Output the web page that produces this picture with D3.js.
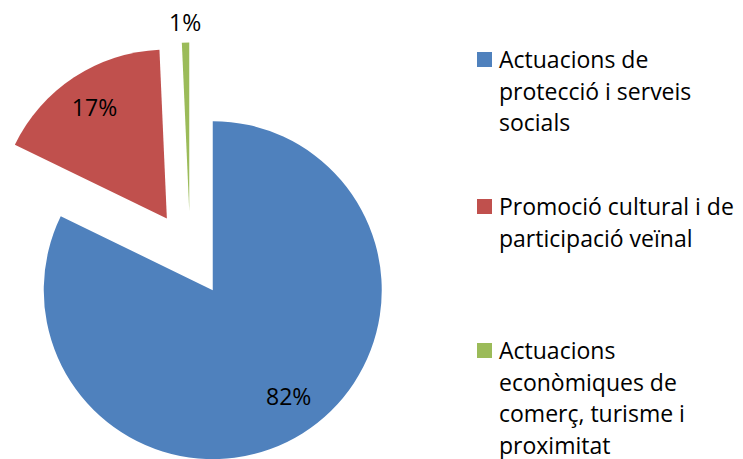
<!DOCTYPE html>
<html>
<head>
<meta charset="utf-8">
<script src="https://cdn.jsdelivr.net/npm/d3@7"></script>
<style>
  html, body { margin: 0; padding: 0; background: #fff; }
  svg { display: block; font-family: "Open Sans", Lato, sans-serif; }
</style>
</head>
<body>
<svg id="chart" width="743" height="459"></svg>
<script>
// Despesa per àmbit (percentatge)

const categories = [
    'Actuacions de protecció i serveis socials',
    'Promoció cultural i de participació veïnal',
    'Actuacions econòmiques de comerç, turisme i proximitat'
];
const values = [82.2, 17.1, 0.7];
const colors = ['#4F81BD', '#C0504D', '#9BBB59'];

// legend text as wrapped in the original
const legendLines = [
    ['Actuacions de', 'protecció i serveis', 'socials'],
    ['Promoció cultural i de', 'participació veïnal'],
    ['Actuacions', 'econòmiques de', 'comerç, turisme i', 'proximitat']
];

const svg = d3.select('#chart');

/* Pie layout */

const cx = 190.2, cy = 254.1;
const radius = 169;
const explode = 42.5;

const data = categories.map((c, i) => ({ name: c, value: values[i], color: colors[i] }));
const total = d3.sum(values);

const pie = d3.pie()
    .value(d => d.value)
    .sort(null)
    .startAngle(0)
    .endAngle(2 * Math.PI);

const arc = d3.arc()
    .innerRadius(0)
    .outerRadius(radius);

const arcs = pie(data);

// shift each slice out along its middle angle
function offset(d, dist) {
    let mid = (d.startAngle + d.endAngle) / 2;
    return [dist * Math.sin(mid), -dist * Math.cos(mid)];
}

const g = svg.append('g')
    .attr('transform', `translate(${cx}, ${cy})`);

g.selectAll('path.slice')
    .data(arcs)
    .join('path')
    .attr('class', 'slice')
    .attr('fill', d => d.data.color)
    .attr('transform', d => {
        let [dx, dy] = offset(d, explode);
        return `translate(${dx}, ${dy})`;
    })
    .attr('d', arc);

/* Percent labels */

const fmt = d3.format('.0%');

g.selectAll('text.pct')
    .data(arcs)
    .join('text')
    .attr('class', 'pct')
    .attr('text-anchor', 'middle')
    .attr('dy', '0.35em')
    .attr('font-size', 23)
    .attr('fill', '#000')
    .attr('transform', d => {
        let small = (d.endAngle - d.startAngle) < 0.2;
        let dist = explode + (small ? radius + 20 : radius * 0.78);
        let [x, y] = offset(d, dist);
        // Excel nudges the big slice label a little to the right
        if (!small && d.index === 0) { x += 6; y -= 5; }
        return `translate(${x}, ${y})`;
    })
    .text(d => fmt(d.value / total));

/* Legend */

const legendX = 477;
const legendTops = [52, 199, 343];
const lineHeight = 31.5;

const legend = svg.append('g').attr('class', 'legend');

const items = legend.selectAll('g.item')
    .data(data)
    .join('g')
    .attr('class', 'item')
    .attr('transform', (d, i) => `translate(${legendX}, ${legendTops[i]})`);

items.append('rect')
    .attr('width', 15)
    .attr('height', 15)
    .attr('fill', d => d.color);

items.each(function (d, i) {
    let t = d3.select(this).append('text')
        .attr('font-size', 23)
        .attr('fill', '#000');
    legendLines[i].forEach((line, k) => {
        t.append('tspan')
            .attr('x', 22)
            .attr('y', 16 + k * lineHeight)
            .text(line);
    });
});
</script>
</body>
</html>
